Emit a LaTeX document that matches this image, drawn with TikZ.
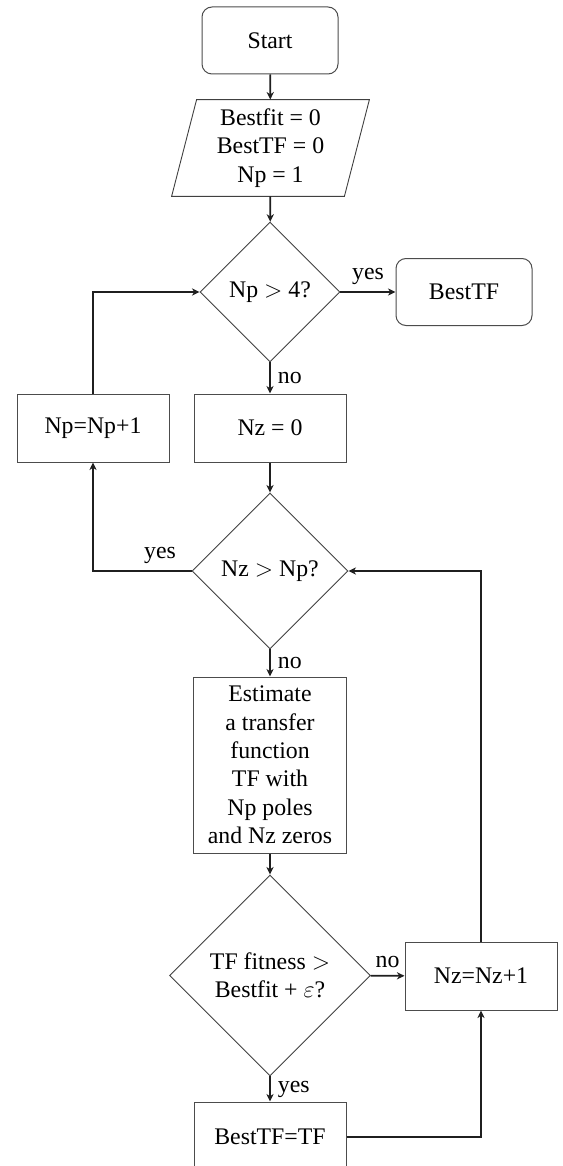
\documentclass[tikz,border=0pt]{standalone}
\usepackage{fontspec}
\setmainfont{Liberation Serif}
\usetikzlibrary{shapes.geometric,calc,arrows.meta}
\begin{document}
\begin{tikzpicture}[x=0.5pt,y=-0.5pt,
  every node/.style={font=\fontsize{11.9}{14.2}\selectfont, text=black},
  box/.style={draw=black!70, line width=0.5pt, minimum width=76pt, minimum height=34pt, inner sep=2pt, align=center},
  rbox/.style={box, rounded corners=5pt, minimum width=68pt, minimum height=33.5pt},
  dia/.style={diamond, draw=black!75, line width=0.45pt, inner sep=0pt, align=center, aspect=1},
  conn/.style={line width=0.85pt, draw=black!88, -{Stealth[length=3.8pt,width=3.6pt,inset=1.2pt]}},
  lab/.style={inner sep=3.5pt}
]
\useasboundingbox (0,0) rectangle (562,1166);

\node[rbox] (start) at (270,40.5) {Start};
\node[minimum width=86pt, minimum height=48pt, inner sep=0pt, align=center] (init) at (270.5,148) {Bestfit = 0\\BestTF = 0\\Np = 1};
\draw[draw=black!75, line width=0.45pt]
  ($(init.north west)+(12.5,0)$) -- ($(init.north east)+(12.5,0)$) --
  ($(init.south east)+(-12.5,0)$) -- ($(init.south west)+(-12.5,0)$) -- cycle;
\node[dia, minimum width=70pt, minimum height=70pt] (d1) at (270,292) {Np $>$ 4?};
\node[rbox] (best) at (464,292) {BestTF};
\node[box] (npinc) at (93,428) {Np=Np+1};
\node[box] (nz0) at (270,428) {Nz = 0};
\node[dia, minimum width=78pt, minimum height=78pt] (d2) at (270,571) {Nz $>$ Np?};
\node[box, minimum width=76.5pt, minimum height=88pt] (est) at (270,765) {Estimate\\a transfer\\function\\TF with\\Np poles\\and Nz zeros};
\node[dia, minimum width=100.5pt, minimum height=100.5pt] (d3) at (270,975.5) {TF fitness $>$\\Bestfit + $\varepsilon$?};
\node[box] (nzinc) at (481,976) {Nz=Nz+1};
\node[box, minimum height=35pt] (bset) at (270,1137) {BestTF=TF};

\draw[conn] (start) -- (init);
\draw[conn] (init) -- (d1);
\draw[conn] (d1) -- node[lab, above]{yes} (best);
\draw[conn] (d1) -- node[lab, right]{no} (nz0);
\draw[conn] (nz0) -- (d2);
\draw[conn] (d2.west) -| node[lab, above, pos=0.16]{yes} (npinc.south);
\draw[conn] (npinc.north) |- (d1.west);
\draw[conn] (d2) -- node[lab, right]{no} (est);
\draw[conn] (est) -- (d3);
\draw[conn] (d3) -- node[lab, above]{no} (nzinc);
\draw[conn] (d3) -- node[lab, right]{yes} (bset);
\draw[conn] (bset.east) -| (nzinc.south);
\draw[conn] (nzinc.north) |- (d2.east);
\end{tikzpicture}
\end{document}
